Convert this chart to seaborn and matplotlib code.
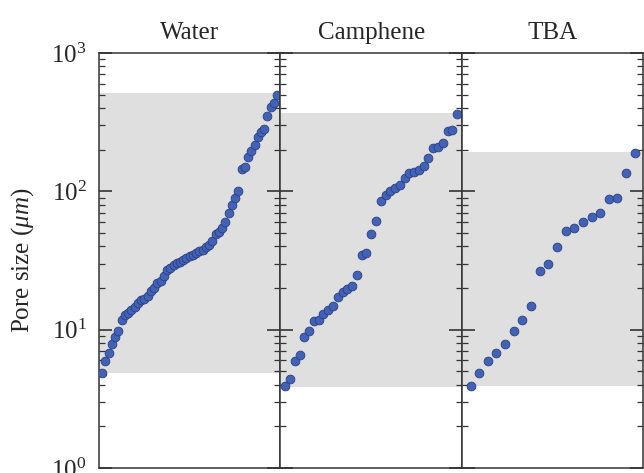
import numpy as np
import pandas as pd
import matplotlib
matplotlib.use("Agg")
import matplotlib.pyplot as plt
import seaborn as sns
from matplotlib.ticker import LogLocator, NullFormatter

# Pore sizes (um), sorted
solvents = ["Water", "Camphene", "TBA"]

water = [4.9, 5.9, 6.8, 7.9, 8.9, 9.8, 11.8, 12.7, 13.2, 13.8, 14.6, 15.5, 16.3,
         16.7, 17.6, 19.1, 20, 21.7, 22.6, 24.6, 26.8, 28, 29.5, 30.2, 31, 31.7,
         32.7, 33.8, 34.7, 35.9, 36.9, 37.9, 39.8, 40.7, 44, 49, 51, 54.6, 59.6,
         69.6, 79, 90, 100, 146, 150, 178, 195, 218, 247, 268, 280, 350, 408,
         436, 500]
camphene = [3.9, 4.4, 5.9, 6.6, 8.9, 9.8, 11.5, 11.7, 12.9, 13.9, 14.9, 17.3,
            18.8, 19.8, 20.6, 24.8, 34.4, 35.7, 49.3, 61.4, 85.7, 94.7, 100,
            106, 112, 125, 136, 138, 142, 152, 175, 206, 208, 224, 272, 277, 363]
tba = [3.9, 4.9, 5.9, 6.8, 7.9, 9.8, 11.8, 14.8, 26.6, 29.6, 39.5, 52, 54.6,
       59.6, 65.1, 69.6, 87.5, 90, 136, 188]

# gray band limits (min / max of each distribution)
band_low = [4.9, 3.85, 3.9]
band_high = [510, 370, 192]

data = {"Water": water, "Camphene": camphene, "TBA": tba}
frames = []
for name in solvents:
    vals = data[name]
    frames.append(pd.DataFrame({"solvent": name, "rank": np.arange(len(vals)), "size": vals}))
df = pd.concat(frames, ignore_index=True)

sns.set_style("ticks")
plt.rcParams["font.family"] = ["Liberation Serif", "DejaVu Serif"]
plt.rcParams["mathtext.fontset"] = "custom"
plt.rcParams["mathtext.rm"] = "Liberation Serif"
plt.rcParams["mathtext.it"] = "Liberation Serif:italic"

fig, axes = plt.subplots(1, 3, figsize=(6.44, 4.73), dpi=100, sharey=True)
fig.subplots_adjust(left=99 / 644, right=0.999, bottom=1 - 468 / 473, top=1 - 53 / 473, wspace=0)

for i, (ax, name) in enumerate(zip(axes, solvents)):
    sub = df[df["solvent"] == name]
    n = len(sub)
    ax.axhspan(band_low[i], band_high[i], color="#dfdfdf", lw=0, zorder=0)
    sns.scatterplot(data=sub, x="rank", y="size", ax=ax, color="#4262b8",
                    edgecolor="#2b3f7e", linewidth=0.6, s=40, zorder=3)
    ax.set_yscale("log")
    ax.set_ylim(1, 1000)
    ax.set_xlim(-1, n)
    ax.set_xticks([])
    ax.set_xlabel("")
    ax.set_ylabel("")
    ax.set_title(name, fontsize=18, pad=10)
    ax.yaxis.set_major_locator(LogLocator(base=10, numticks=10))
    ax.yaxis.set_minor_locator(LogLocator(base=10, subs=np.arange(2, 10), numticks=10))
    ax.yaxis.set_minor_formatter(NullFormatter())
    ax.tick_params(axis="y", which="major", direction="in", left=True, right=True,
                   length=9.5, width=1.2, color="#333333", labelsize=18, pad=9)
    ax.tick_params(axis="y", which="minor", direction="in", left=True, right=True,
                   length=4.5, width=0.9, color="#333333")
    for sp in ax.spines.values():
        sp.set_color("#333333")
        sp.set_linewidth(1.1)
    if i > 0:
        ax.tick_params(axis="y", which="both", labelleft=False)

axes[0].set_ylabel(r"Pore size ($\mu m$)", fontsize=18, labelpad=11)

plt.savefig("out.png", dpi=100)
